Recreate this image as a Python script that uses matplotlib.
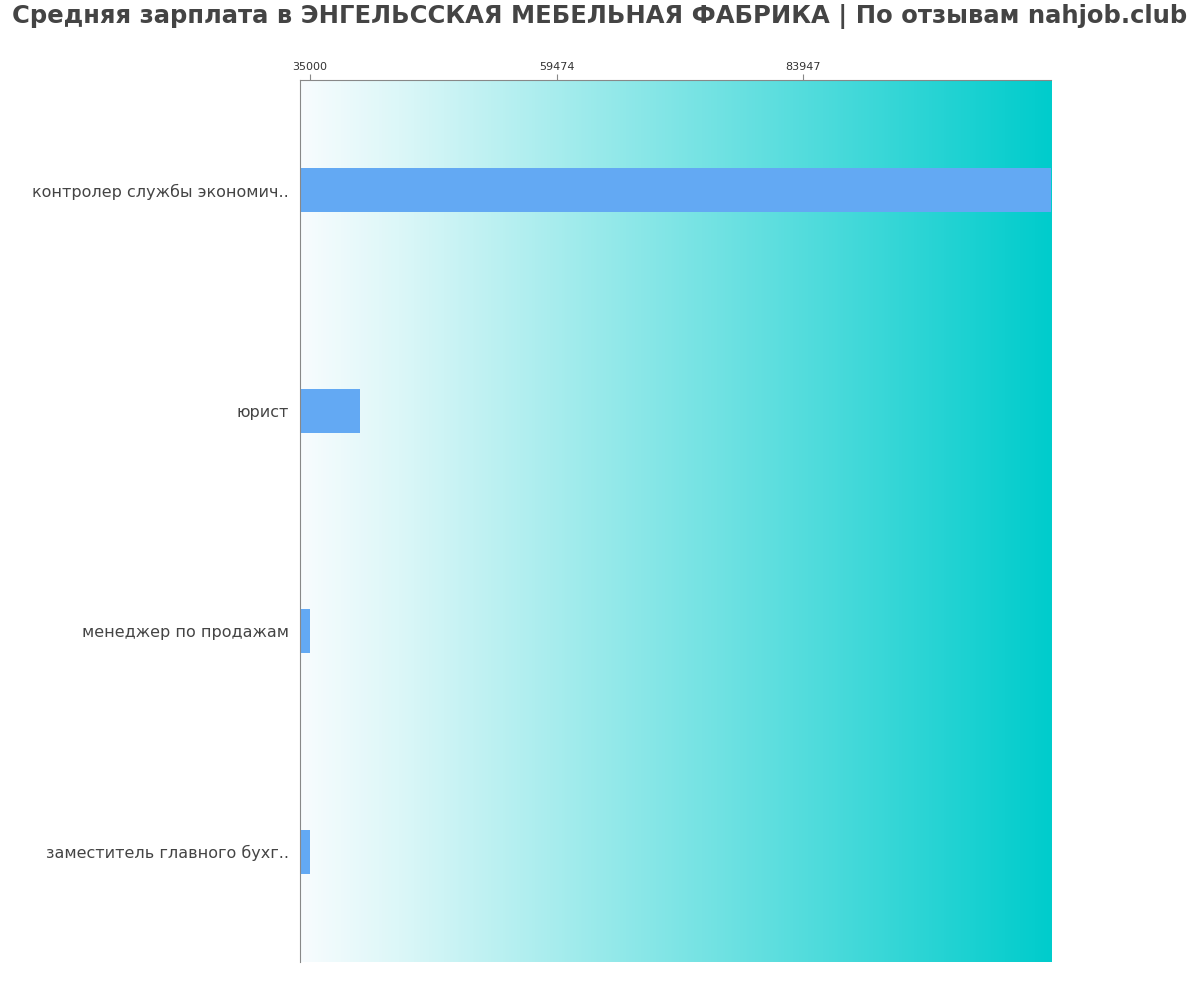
import numpy as np
import matplotlib.pyplot as plt
from matplotlib.colors import LinearSegmentedColormap

plt.rcParams['font.family'] = ['DejaVu Sans']

title = "Средняя зарплата в ЭНГЕЛЬССКАЯ МЕБЕЛЬНАЯ ФАБРИКА | По отзывам nahjob.club"
jobs = ["контролер службы экономич..", "юрист", "менеджер по продажам", "заместитель главного бухг.."]
salaries = [110000, 40000, 35000, 35000]
ticks = [35000, 59474, 83947]
x_min, x_max = 34000, 108600

fig = plt.figure(figsize=(12, 10), dpi=100)
ax = fig.add_axes([0.25, 0.038, 0.626, 0.882])

# gradient background
cmap = LinearSegmentedColormap.from_list(
    "bg", [(0, "#f8fcfe"), (0.13, "#dcf7f8"), (1, "#00cccc")])
grad = np.linspace(0, 1, 512).reshape(1, -1)
ax.imshow(grad, cmap=cmap, aspect="auto", extent=[x_min, x_max, 3.5, -0.5], zorder=0)

y = np.arange(len(jobs))
ax.barh(y, salaries, height=0.2, color="#63a9f3", zorder=2)

ax.set_xlim(x_min, x_max)
ax.set_ylim(3.5, -0.5)
ax.set_yticks(y)
ax.set_yticklabels(jobs, fontsize=11.5, color="#444444")
ax.tick_params(axis="y", length=0, pad=8)
ax.xaxis.tick_top()
ax.set_xticks(ticks)
ax.set_xticklabels([str(t) for t in ticks], fontsize=8, color="#333333")
ax.tick_params(axis="x", length=4, color="#888888", pad=2)

for side in ["right", "bottom"]:
    ax.spines[side].set_visible(False)
for side in ["left", "top"]:
    ax.spines[side].set_color("#888888")

fig.text(0.5, 0.996, title, ha="center", va="top", fontsize=17.5, fontweight="bold", color="#444444")

fig.savefig("out.png")
